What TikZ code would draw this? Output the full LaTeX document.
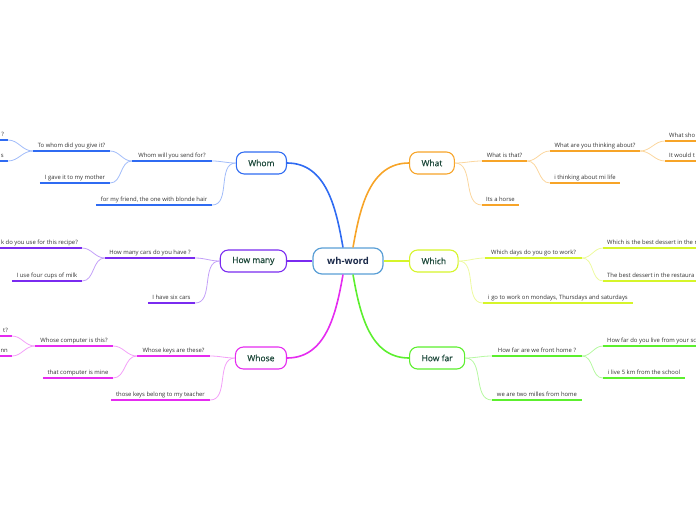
\documentclass[tikz,border=0pt]{standalone}
\usepackage{fontspec}
\setmainfont{Open Sans}
\newfontfamily\topicfont{Open Sans}[FakeBold=0.7]
\usetikzlibrary{positioning}
\definecolor{whRoot}{HTML}{5A9FD6}
\definecolor{whNavy}{HTML}{1B2A4A}
\definecolor{whText}{HTML}{1F4A3C}
\definecolor{whGrey}{HTML}{333333}
\definecolor{whBlue}{HTML}{2F6BF2}
\definecolor{whPurple}{HTML}{7A2BF0}
\definecolor{whMagenta}{HTML}{E52CF0}
\definecolor{whOrange}{HTML}{F7A428}
\definecolor{whLime}{HTML}{D6F52A}
\definecolor{whGreen}{HTML}{5CEF2E}
\newcommand\subsize{\fontsize{5.9}{7}\selectfont}
\newcommand\topicsize{\topicfont\fontsize{8.5}{10}\selectfont}
\tikzset{
  rootnode/.style = {draw=whRoot, line width=1.2pt, fill=white, rounded corners=9pt,
                     minimum width=70pt, minimum height=26pt, text=whNavy,
                     font=\bfseries\fontsize{9.5}{11}\selectfont},
  topic/.style    = {draw=#1, line width=1.1pt, fill=white, rounded corners=8pt,
                     minimum height=22pt, inner xsep=12pt, text=whText, font=\topicsize},
  mainlink/.style = {#1, line width=1.6pt},
  sublink/.style  = {#1!45, line width=0.8pt},
  sub/.style      = {font=\subsize, text=whGrey, inner xsep=4pt, inner ysep=2.6pt,
                     text height=4.2pt, text depth=1.2pt, anchor=south,
                     append after command={(\tikzlastnode.south west)
                       edge[#1, line width=2.2pt] (\tikzlastnode.south east)}},
  edgel/.style    = {anchor=south west, text width=130pt, align=flush left},
  edger/.style    = {anchor=south east, text width=100pt, align=flush right},
}
\begin{document}
\begin{tikzpicture}[x=1pt, y=-1pt]
  \useasboundingbox (0,0) rectangle (696,520);
  \clip (0,0) rectangle (696,520);

  % centre and main topics
  \node[rootnode] (root) at (348,261) {wh-word};
  \node[topic=whBlue, anchor=east]    (whom)    at (287,163) {Whom};
  \node[topic=whPurple, anchor=east]  (howmany) at (287,261) {How many};
  \node[topic=whMagenta, anchor=east] (whose)   at (287,358) {Whose};
  \node[topic=whOrange, anchor=west]  (what)    at (409,163) {What};
  \node[topic=whLime, anchor=west]    (which)   at (409,261) {Which};
  \node[topic=whGreen, anchor=west]   (howfar)  at (409,358) {How far};

  \draw[mainlink=whBlue]    ([xshift=-5pt]root.north) to[out=100, in=0] (whom.east);
  \draw[mainlink=whPurple]  (root.west) -- (howmany.east);
  \draw[mainlink=whMagenta] ([xshift=-5pt]root.south) to[out=-100, in=0] (whose.east);
  \draw[mainlink=whOrange]  ([xshift=5pt]root.north) to[out=80, in=180] (what.west);
  \draw[mainlink=whLime]    (root.east) -- (which.west);
  \draw[mainlink=whGreen]   ([xshift=5pt]root.south) to[out=-80, in=180] (howfar.west);

  % Whom
  \node[sub=whBlue, minimum width=80]  (wm1)  at (172,161) {Whom will you send for?};
  \node[sub=whBlue, minimum width=77]  (wm11) at (71.5,151) {To whom did you give it?};
  \node[sub=whBlue, minimum width=70]  (wm12) at (75,183) {I gave it to my mother};
  \node[sub=whBlue, minimum width=116] (wm2)  at (154,205) {for my friend, the one with blonde hair};
  \node[sub=whBlue, edger] (wm111) at (8,140) {?};
  \node[sub=whBlue, edger] (wm112) at (8,161) {s};
  \draw[sublink=whBlue] (whom.west) to[out=180, in=0] (wm1.south east);
  \draw[sublink=whBlue] (whom.west) to[out=180, in=0] (wm2.south east);
  \draw[sublink=whBlue] (wm1.south west) to[out=180, in=0] (wm11.south east);
  \draw[sublink=whBlue] (wm1.south west) to[out=180, in=0] (wm12.south east);
  \draw[sublink=whBlue] (wm11.south west) to[out=180, in=0] (wm111.south east);
  \draw[sublink=whBlue] (wm11.south west) to[out=180, in=0] (wm112.south east);

  % How many
  \node[sub=whPurple, minimum width=90] (hm1)  at (150,258) {How many cars do you have ?};
  \node[sub=whPurple, edger]            (hm11) at (82,248) {k do you use for this recipe?};
  \node[sub=whPurple, minimum width=70] (hm12) at (47,281) {I use four cups of milk};
  \node[sub=whPurple, minimum width=47] (hm2)  at (171.5,303) {I have six cars};
  \draw[sublink=whPurple] (howmany.west) to[out=180, in=0] (hm1.south east);
  \draw[sublink=whPurple] (howmany.west) to[out=180, in=0] (hm2.south east);
  \draw[sublink=whPurple] (hm1.south west) to[out=180, in=0] (hm11.south east);
  \draw[sublink=whPurple] (hm1.south west) to[out=180, in=0] (hm12.south east);

  % Whose
  \node[sub=whMagenta, minimum width=73] (ws1)  at (173.5,356) {Whose keys are these?};
  \node[sub=whMagenta, minimum width=78] (ws11) at (74,346) {Whose computer is this?};
  \node[sub=whMagenta, minimum width=70] (ws12) at (78,378) {that computer is mine};
  \node[sub=whMagenta, minimum width=99] (ws2)  at (160.5,400) {those keys belong to my teacher};
  \node[sub=whMagenta, edger] (ws111) at (12,336) {t?};
  \node[sub=whMagenta, edger] (ws112) at (12,356) {nn};
  \draw[sublink=whMagenta] (whose.west) to[out=180, in=0] (ws1.south east);
  \draw[sublink=whMagenta] (whose.west) to[out=180, in=0] (ws2.south east);
  \draw[sublink=whMagenta] (ws1.south west) to[out=180, in=0] (ws11.south east);
  \draw[sublink=whMagenta] (ws1.south west) to[out=180, in=0] (ws12.south east);
  \draw[sublink=whMagenta] (ws11.south west) to[out=180, in=0] (ws111.south east);
  \draw[sublink=whMagenta] (ws11.south west) to[out=180, in=0] (ws112.south east);

  % What
  \node[sub=whOrange, minimum width=45] (wt1)  at (504.5,161) {What is that?};
  \node[sub=whOrange, minimum width=90] (wt11) at (595,151) {What are you thinking about?};
  \node[sub=whOrange, minimum width=70] (wt12) at (585,183) {i thinking about mi life};
  \node[sub=whOrange, minimum width=37] (wt2)  at (500.5,205) {Its a horse};
  \node[sub=whOrange, edgel] (wt111) at (665,141) {What sho};
  \node[sub=whOrange, edgel] (wt112) at (665,161) {It would t};
  \draw[sublink=whOrange] (what.east) to[out=0, in=180] (wt1.south west);
  \draw[sublink=whOrange] (what.east) to[out=0, in=180] (wt2.south west);
  \draw[sublink=whOrange] (wt1.south east) to[out=0, in=180] (wt11.south west);
  \draw[sublink=whOrange] (wt1.south east) to[out=0, in=180] (wt12.south west);
  \draw[sublink=whOrange] (wt11.south east) to[out=0, in=180] (wt111.south west);
  \draw[sublink=whOrange] (wt11.south east) to[out=0, in=180] (wt112.south west);

  % Which
  \node[sub=whLime, minimum width=97]  (wc1)  at (533.5,258) {Which days do you go to work?};
  \node[sub=whLime, edgel]             (wc11) at (603,248) {Which is the best dessert in the r};
  \node[sub=whLime, edgel]             (wc12) at (603,281) {The best dessert in the restaura};
  \node[sub=whLime, minimum width=150] (wc2)  at (558,303) {i go to work on mondays, Thursdays and saturdays};
  \draw[sublink=whLime] (which.east) to[out=0, in=180] (wc1.south west);
  \draw[sublink=whLime] (which.east) to[out=0, in=180] (wc2.south west);
  \draw[sublink=whLime] (wc1.south east) to[out=0, in=180] (wc11.south west);
  \draw[sublink=whLime] (wc1.south east) to[out=0, in=180] (wc12.south west);

  % How far
  \node[sub=whGreen, minimum width=90] (hf1)  at (537,356) {How far are we front home ?};
  \node[sub=whGreen, edgel]            (hf11) at (603,346) {How far do you live from your sc};
  \node[sub=whGreen, minimum width=82] (hf12) at (644,378) {i live 5 km from the school};
  \node[sub=whGreen, minimum width=90] (hf2)  at (537,400) {we are two milles from home};
  \draw[sublink=whGreen] (howfar.east) to[out=0, in=180] (hf1.south west);
  \draw[sublink=whGreen] (howfar.east) to[out=0, in=180] (hf2.south west);
  \draw[sublink=whGreen] (hf1.south east) to[out=0, in=180] (hf11.south west);
  \draw[sublink=whGreen] (hf1.south east) to[out=0, in=180] (hf12.south west);
\end{tikzpicture}
\end{document}
